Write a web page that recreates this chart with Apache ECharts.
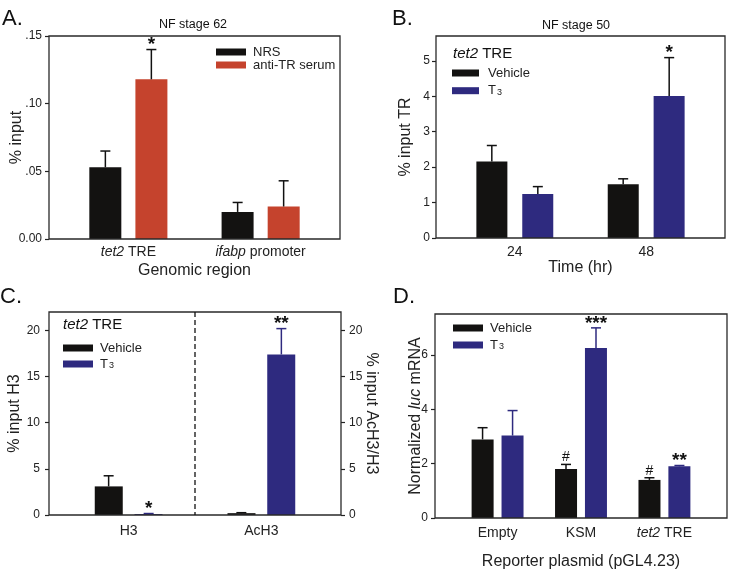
<!DOCTYPE html>
<html>
<head>
<meta charset="utf-8">
<script src="https://cdn.jsdelivr.net/npm/echarts@6/dist/echarts.min.js"></script>
<style>
html, body { margin: 0; background: #fff; }
#chart { width: 729px; height: 578px; }
</style>
</head>
<body>
<div id="chart"></div>
<script>
// ---- data ----
// A. NF stage 62
var catsA = ['tet2 TRE', 'ifabp promoter'];
var nrsA = [0.053, 0.020];
var nrsSeA = [0.012, 0.007];
var antiA = [0.118, 0.024];
var antiSeA = [0.022, 0.019];
var antiSigA = ['*', ''];
var ticksA = [0, 0.05, 0.10, 0.15];

// B. NF stage 50
var timeB = ['24', '48'];
var vehB = [2.16, 1.52];
var vehSeB = [0.45, 0.15];
var t3B = [1.24, 4.01];
var t3SeB = [0.21, 1.08];
var t3SigB = ['', '*'];
var ticksB = [0, 1, 2, 3, 4, 5];

// C. histone marks
var markC = ['H3', 'AcH3'];
var vehC = [3.1, 0.2];
var vehSeC = [1.15, 0.05];
var t3C = [0.1, 17.4];
var t3SeC = [0.06, 2.8];
var t3SigC = ['*', '**'];
var ticksC = [0, 5, 10, 15, 20];

// D. reporter assay
var plasmidD = ['Empty', 'KSM', 'tet2 TRE'];
var vehD = [2.89, 1.80, 1.40];
var vehSeD = [0.43, 0.17, 0.08];
var vehSigD = ['', '#', '#'];
var t3D = [3.03, 6.25, 1.90];
var t3SeD = [0.92, 0.74, 0.03];
var t3SigD = ['', '***', '**'];
var ticksD = [0, 2, 4, 6];

// ---- styles ----
var FONT = '"Liberation Sans", Arial, sans-serif';
var INK = '#222';
var BLACK = '#131211';
var RED = '#c5432d';
var BLUE = '#2e2a7f';

var RICH = {
	i: { fontStyle: 'italic', fontSize: 14, color: INK, fontFamily: FONT }
};

// panel frames (plot boxes) in pixels
var boxA = { l: 49, r: 340, t: 36, b: 239 };
var boxB = { l: 436, r: 725, t: 36, b: 238 };
var boxC = { l: 49, r: 341, t: 312, b: 515 };
var boxD = { l: 435, r: 727, t: 314, b: 518 };

// sigmaplot puts extra room at the ends of the category axis
function inner(box, n, lo) {
	var span = n - 1 + 2 * lo;
	var cw = (box.r - box.l) / span;
	var pad = (lo - 0.5) * cw;
	return {
		pad: pad,
		grid: { left: box.l + pad, top: box.t, width: box.r - box.l - 2 * pad, height: box.b - box.t }
	};
}
var inA = inner(boxA, 2, 0.6);
var inB = inner(boxB, 2, 0.6);
var inC = inner(boxC, 2, 0.6);
var inD = inner(boxD, 3, 0.75);

function italic(v) {
	return v.replace(/^(tet2|ifabp)/, '{i|$1}');
}

function xAx(gi, cats, margin, name, gap) {
	return {
		type: 'category', gridIndex: gi, data: cats,
		axisLine: { show: false },
		axisTick: { alignWithLabel: true, length: 5, lineStyle: { color: INK, width: 1.2 } },
		axisLabel: { interval: 0, margin: margin, fontSize: 14, color: INK, fontFamily: FONT, formatter: italic, rich: RICH },
		name: name, nameLocation: 'middle', nameGap: gap, nameMoveOverlap: false,
		nameTextStyle: { fontSize: 16, color: INK, fontFamily: FONT }
	};
}

function yAx(gi, max, step, ticks, fmt, name, gap, pad, margin, pos, rot) {
	return {
		type: 'value', gridIndex: gi, min: 0, max: max, interval: step,
		position: pos || 'left', offset: pad,
		axisLine: { show: false },
		splitLine: { show: false },
		axisTick: { show: true, length: 4, customValues: ticks, lineStyle: { color: INK, width: 1.2 } },
		axisLabel: { margin: margin, fontSize: 12, color: INK, fontFamily: FONT, customValues: ticks, formatter: fmt },
		name: name, nameLocation: 'middle', nameGap: gap, nameRotate: rot, nameMoveOverlap: false,
		nameTextStyle: { fontSize: 16, color: INK, fontFamily: FONT,
			rich: { i: { fontStyle: 'italic', fontSize: 16, color: INK, fontFamily: FONT } } }
	};
}

function bar(name, gi, yi, data, color, w, gap) {
	return {
		type: 'bar', name: name, xAxisIndex: gi, yAxisIndex: yi, data: data,
		barWidth: w, barGap: gap, itemStyle: { color: color }, z: 2
	};
}

// upper error bar + significance mark
function err(gi, yi, vals, ses, sigs, side, w, gap, color) {
	return {
		type: 'custom', xAxisIndex: gi, yAxisIndex: yi, z: 3,
		data: vals.map(function (v, i) { return [i, v, v + ses[i]]; }),
		encode: { x: 0, y: [1, 2] },
		renderItem: function (params, api) {
			var top = api.coord([api.value(0), api.value(2)]);
			var base = api.coord([api.value(0), api.value(1)]);
			var x = top[0] + side * (w + gap) / 2;
			var kids = [
				{ type: 'line', shape: { x1: x, y1: base[1], x2: x, y2: top[1] }, style: { stroke: color, lineWidth: 1.5 } },
				{ type: 'line', shape: { x1: x - 5, y1: top[1], x2: x + 5, y2: top[1] }, style: { stroke: color, lineWidth: 1.5 } }
			];
			var s = sigs ? sigs[params.dataIndex] : '';
			if (s) {
				var star = s.charAt(0) === '*';
				kids.push({
					type: 'text', x: x, y: top[1] + (star ? 5 : 0),
					style: { text: s, align: 'center', verticalAlign: 'bottom', fill: '#111',
						font: star ? 'bold 19px ' + FONT : '14px ' + FONT }
				});
			}
			return { type: 'group', children: kids };
		}
	};
}

var tFmt = function (n) { return n === 'T3' ? '{t|T}{s|3}' : n; };
function leg(names, left, top, iw, gapY, padL) {
	return {
		data: names, orient: 'vertical', left: left, top: top, padding: 0,
		icon: 'rect', itemWidth: iw, itemHeight: 7, itemGap: gapY,
		selectedMode: false, formatter: tFmt,
		textStyle: {
			fontSize: 13, color: INK, fontFamily: FONT, lineHeight: 13, padding: [0, 0, 0, padL],
			rich: {
				t: { fontSize: 13, color: INK, fontFamily: FONT, lineHeight: 13 },
				s: { fontSize: 9, color: INK, fontFamily: FONT, lineHeight: 13, verticalAlign: 'bottom', padding: [5, 0, 0, 1] }
			}
		}
	};
}

function txt(x, y, text, size, align, extra) {
	var st = { text: text, fill: '#111', font: size + 'px ' + FONT, align: align || 'left', verticalAlign: 'middle' };
	if (extra) st.rich = extra;
	return { type: 'text', x: x, y: y, style: st, z: 50 };
}
function frame(b) {
	return { type: 'rect', shape: { x: b.l, y: b.t, width: b.r - b.l, height: b.b - b.t },
		style: { fill: 'none', stroke: '#2a2a2a', lineWidth: 1.3 }, z: 40 };
}
var italicRich = { i: { fontStyle: 'italic', fontSize: 15, fill: '#111', fontFamily: FONT } };

var fmtA = function (v) { return v === 0 ? '0.00' : v.toFixed(2).replace(/^0/, ''); };

myChart = echarts.init(document.getElementById('chart'), null, { renderer: 'canvas' });
var option = {
	backgroundColor: '#fff',
	animation: false,
	grid: [inA.grid, inB.grid, inC.grid, inD.grid],
	xAxis: [
		xAx(0, catsA, 6, 'Genomic region', 24),
		xAx(1, timeB, 7, 'Time (hr)', 22),
		xAx(2, markC, 9, '', 0),
		xAx(3, plasmidD, 8, 'Reporter plasmid (pGL4.23)', 36)
	],
	yAxis: [
		yAx(0, 0.15, 0.05, ticksA, fmtA, '% input', 24, inA.pad, 7),
		yAx(1, 5.7, 1, ticksB, null, '% input TR', 22, inB.pad, 6),
		yAx(2, 22, 5, ticksC, null, '% input H3', 26, inC.pad, 9),
		yAx(2, 22, 5, ticksC, null, '% input AcH3/H3', 22, inC.pad, 8, 'right', -90),
		yAx(3, 7.5, 2, ticksD, null, 'Normalized {i|luc} mRNA', 11, inD.pad, 7)
	],
	legend: [
		leg(['NRS', 'anti-TR serum'], 216, 45.5, 30, 0, 2),
		leg(['Vehicle', 'T3'], 452, 66.5, 27, 3.7, 4),
		leg(['Vehicle', 'T3'], 63, 341.5, 30, 2, 2),
		leg(['Vehicle', 'T3'], 453, 321.5, 30, 3, 2)
	],
	series: [
		bar('NRS', 0, 0, nrsA, BLACK, 32, '44%'),
		bar('anti-TR serum', 0, 0, antiA, RED, 32, '44%'),
		err(0, 0, nrsA, nrsSeA, null, -1, 32, 14, '#111'),
		err(0, 0, antiA, antiSeA, antiSigA, 1, 32, 14, '#111'),

		bar('Vehicle', 1, 1, vehB, BLACK, 31, '48%'),
		bar('T3', 1, 1, t3B, BLUE, 31, '48%'),
		err(1, 1, vehB, vehSeB, null, -1, 31, 15, '#111'),
		err(1, 1, t3B, t3SeB, t3SigB, 1, 31, 15, '#111'),

		bar('Vehicle', 2, 2, vehC, BLACK, 28, '42%'),
		bar('T3', 2, 2, t3C, BLUE, 28, '42%'),
		err(2, 2, vehC, vehSeC, null, -1, 28, 12, '#111'),
		err(2, 2, t3C, t3SeC, t3SigC, 1, 28, 12, BLUE),

		bar('Vehicle', 3, 4, vehD, BLACK, 22, '36%'),
		bar('T3', 3, 4, t3D, BLUE, 22, '36%'),
		err(3, 4, vehD, vehSeD, vehSigD, -1, 22, 8, '#111'),
		err(3, 4, t3D, t3SeD, t3SigD, 1, 22, 8, BLUE)
	],
	graphic: [
		frame(boxA), frame(boxB), frame(boxC), frame(boxD),
		{ type: 'line', shape: { x1: (boxC.l + boxC.r) / 2, y1: boxC.t, x2: (boxC.l + boxC.r) / 2, y2: boxC.b },
			style: { stroke: '#111', lineWidth: 1.3, lineDash: [5, 3] }, z: 40 },
		txt(2, 19, 'A.', 22), txt(392, 19, 'B.', 22), txt(0, 297, 'C.', 22), txt(393, 297, 'D.', 22),
		txt(193, 25, 'NF stage 62', 12.5, 'center'),
		txt(576, 26, 'NF stage 50', 12.5, 'center'),
		txt(453, 54, '{i|tet2} TRE', 15, 'left', italicRich),
		txt(63, 325, '{i|tet2} TRE', 15, 'left', italicRich)
	]
};
myChart.setOption(option);
</script>
</body>
</html>
